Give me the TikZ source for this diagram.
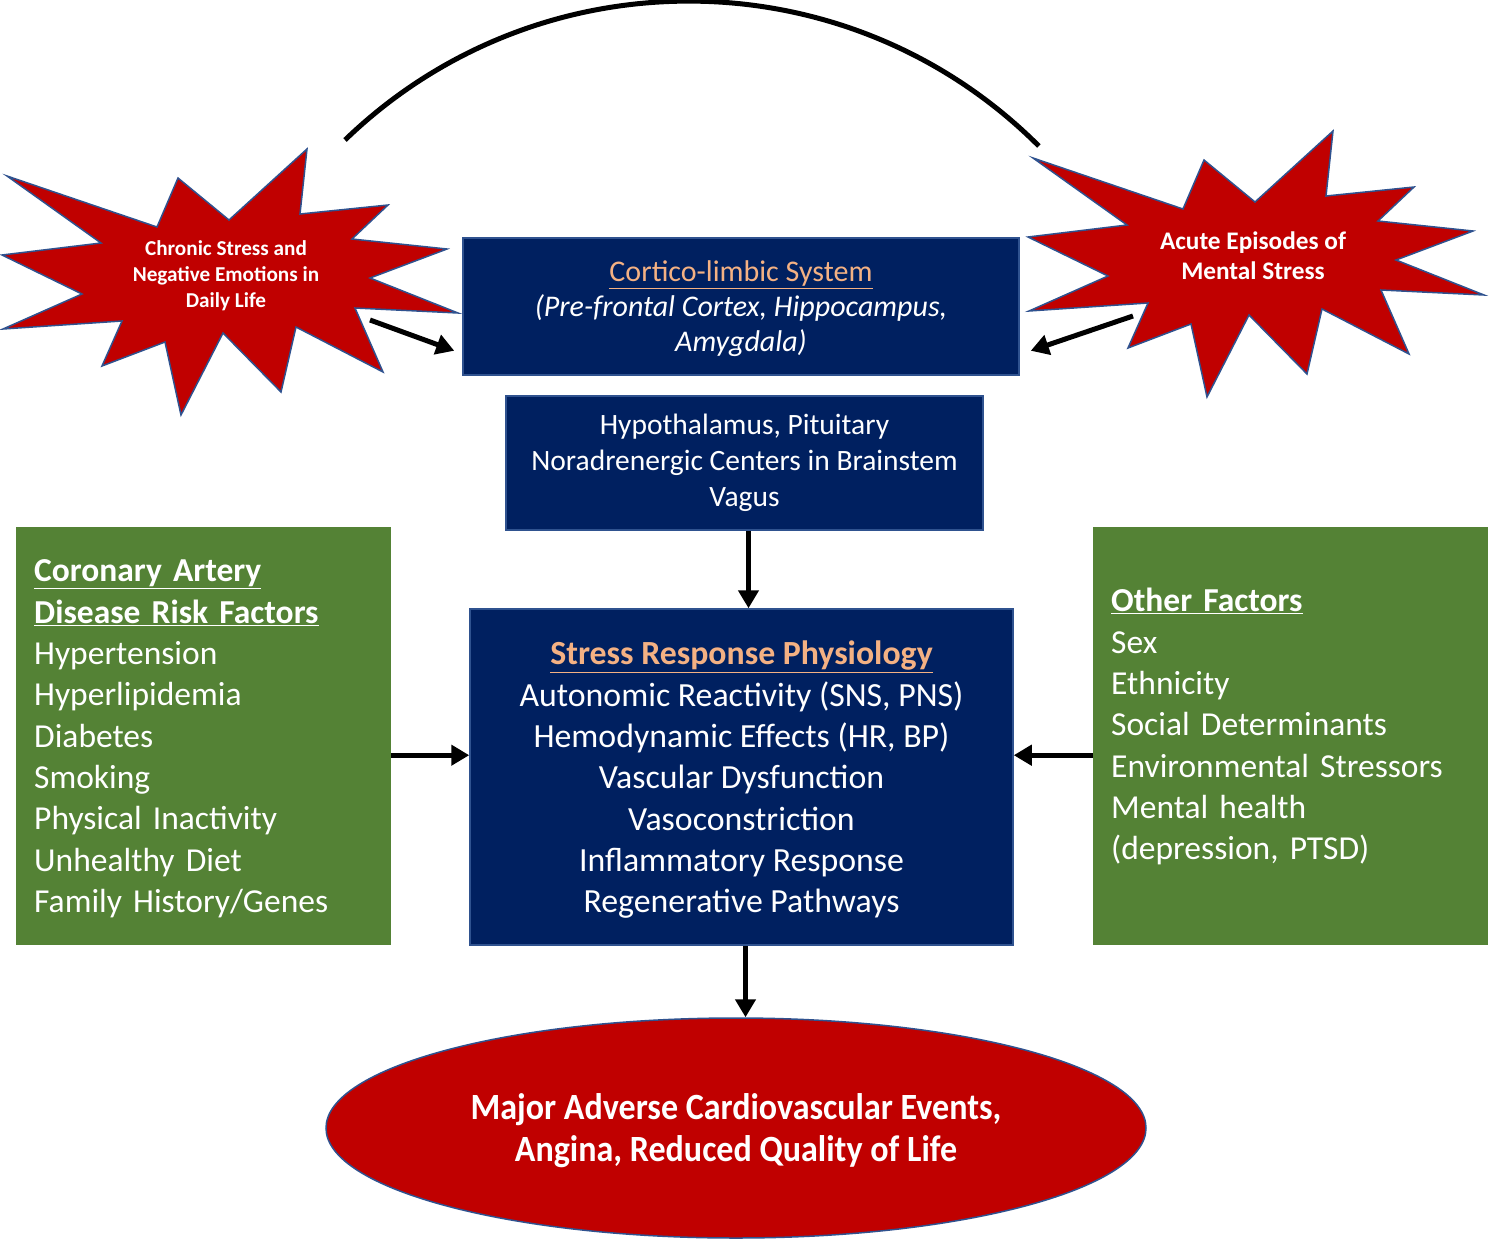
\documentclass[tikz,border=0pt]{standalone}
\usepackage{fontspec}
\setmainfont{Carlito}
\newfontfamily\narrowfont[FakeStretch=0.92]{Carlito}
\usetikzlibrary{arrows.meta,shapes.geometric,calc}

\definecolor{navy}{HTML}{002060}
\definecolor{navyline}{HTML}{2F528F}
\definecolor{leaf}{HTML}{548235}
\definecolor{crimson}{HTML}{C00000}
\definecolor{peach}{HTML}{F4B183}

\newcommand{\fs}[2]{\fontsize{#1}{#2}\selectfont}

\begin{document}
\begin{tikzpicture}[
        x=1pt, y=-1pt, % one unit = one pixel, y grows downwards
        box/.style={draw=navyline, line width=1.5pt, fill=navy, text=white, inner sep=0pt, align=center},
        greenbox/.style={fill=leaf, text=white, inner xsep=18pt, inner ysep=0pt, align=left, anchor=north west, font=\fs{33.5}{41.3}},
        burst/.style={draw=navyline, line width=1.5pt, fill=crimson, line join=miter},
        bursttext/.style={text=white, align=center, inner sep=0pt},
        arr/.style={line width=5pt, -{Triangle[length=18pt, width=20pt]}},
    ]
    \useasboundingbox (0,0) rectangle (1500,1240);

    % the two explosions
    \foreach \sx/\sy in {0/0, 1026/-18} {
        \draw[burst, shift={(\sx,\sy)}] (7,176) -- (157,227) -- (178,178) -- (229,220) -- (307,149) -- (300,214)
            -- (388,205) -- (352,239) -- (447,249) -- (370,278) -- (458,313) -- (355,308) -- (383,372)
            -- (296,327) -- (281,392) -- (223,333) -- (181,415) -- (165,342) -- (102,366) -- (122,321)
            -- (3,329) -- (82,294) -- (2,255) -- (101,243) -- cycle;
    }
    \node[bursttext, font=\bfseries\fs{21.2}{26}] (chronic) at (226,276) {Chronic Stress and\\Negative Emotions in\\Daily Life};
    \node[bursttext, font=\bfseries\fs{25.3}{30}] (acute) at (1253,256) {Acute Episodes of\\Mental Stress};

    % brain boxes
    \node[box, minimum width=556pt, minimum height=137pt, text depth=0pt, font=\fs{30}{35}] (cortico) at (741,306.5)
        {\textcolor{peach}{\underline{Cortico-limbic System}}\\ \itshape (Pre-frontal Cortex, Hippocampus,\\ \itshape Amygdala)};
    \node[box, minimum width=477pt, minimum height=134pt, font=\fs{29.5}{36}] (hypo) at (744.5,463)
        {Hypothalamus, Pituitary\\Noradrenergic Centers in Brainstem\\Vagus};
    \node[box, minimum width=543pt, minimum height=336pt, text depth=0pt, font=\fs{33.8}{41.3}] (stress) at (741.5,777)
        {\textcolor{peach}{\textbf{\underline{Stress Response Physiology}}}\\
         Autonomic Reactivity (SNS, PNS)\\ Hemodynamic Effects (HR, BP)\\ Vascular Dysfunction\\
         Vasoconstriction\\ Inflammatory Response\\ Regenerative Pathways};

    % side factors
    \node[greenbox, text width=339pt, minimum height=418pt] (crf) at (16,527)
        {\textbf{\underline{Coronary Artery}}\\ \textbf{\underline{Disease Risk Factors}}\\ Hypertension\\
         Hyperlipidemia\\ Diabetes\\ Smoking\\ Physical Inactivity\\ Unhealthy Diet\\ Family History/Genes\\[-41.3pt]\mbox{}};
    \node[greenbox, text width=359pt, minimum height=418pt] (other) at (1093,527)
        {\textbf{\underline{Other Factors}}\\ Sex\\ Ethnicity\\ Social Determinants\\ Environmental Stressors\\
         Mental health\\ (depression, PTSD)\\[-17pt]\mbox{}};

    % outcome
    \node[ellipse, draw=navyline, line width=1.5pt, fill=crimson, text=white, minimum width=820pt, minimum height=220pt,
          inner sep=0pt, text depth=0pt, align=center, font=\narrowfont\bfseries\fs{37}{42}] (mace) at (736,1128)
        {Major Adverse Cardiovascular Events,\\Angina, Reduced Quality of Life};

    % connectors
    \coordinate (chronicTail) at (370,320);
    \coordinate (acuteTail) at (1133,316);
    \coordinate (arcL) at (345,140);
    \draw[line width=5pt] (arcL) arc[start angle=134, end angle=45, radius=495pt];
    \draw[arr] (chronicTail) -- ($(cortico.south west)+(-8,-25)$);
    \draw[arr] (acuteTail) -- ($(cortico.south east)+(11,-25)$);
    \draw[arr] ([xshift=4pt]hypo.south) -- ([xshift=4pt]hypo.south |- stress.north);
    \draw[arr] ([xshift=4pt]stress.south) -- ([xshift=4pt]stress.south |- mace.north);
    \draw[arr] ([yshift=-19pt]crf.east) -- ([yshift=-19pt]crf.east -| stress.west);
    \draw[arr] ([yshift=-19pt]other.west) -- ([yshift=-19pt]other.west -| stress.east);
\end{tikzpicture}
\end{document}
